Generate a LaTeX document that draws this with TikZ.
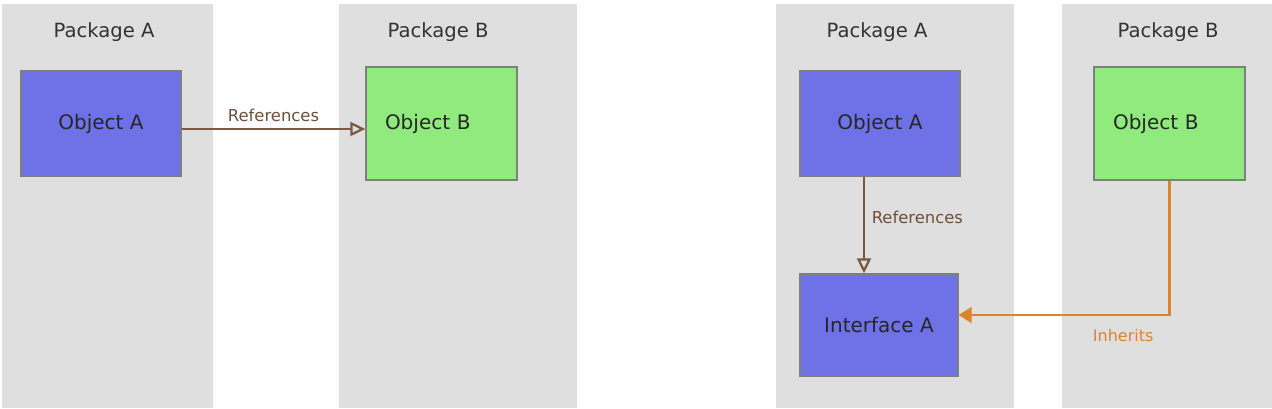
\documentclass[tikz,border=0pt]{standalone}
\usepackage{fontspec}
\setmainfont{DejaVu Sans}
\usetikzlibrary{calc,arrows.meta}
\definecolor{pkggray}{HTML}{DFDFDF}
\definecolor{boxgray}{HTML}{7F7F7F}
\definecolor{objblue}{HTML}{6F72E7}
\definecolor{objgreen}{HTML}{90EA7D}
\definecolor{refbrown}{HTML}{7B5842}
\definecolor{inhorange}{HTML}{D9852F}
\tikzstyle{panel} = [fill=pkggray]
\tikzstyle{pkglabel} = [font=\fontsize{9.8}{12}\selectfont, text=black!80]
\tikzstyle{objbox} = [draw=boxgray, line width=0.7pt, inner sep=0pt, font=\fontsize{10}{12}\selectfont, text=black!85]
\tikzstyle{refarrow} = [line width=1.1pt, draw=refbrown, -{Triangle[open,length=7.5pt,width=7pt]}]
\tikzstyle{inharrow} = [line width=1.1pt, draw=inhorange, -{Triangle[length=6.5pt,width=8pt]}]
\tikzstyle{reflabel} = [font=\fontsize{8.2}{10}\selectfont, text=refbrown!90!black]
\tikzstyle{inhlabel} = [font=\fontsize{8}{10}\selectfont, text=inhorange]

\begin{document}
\begin{tikzpicture}[x=0.5pt,y=-0.5pt]
            \useasboundingbox (0,0) rectangle (1272,408);
            % package panels
            \fill[panel] (2,4) rectangle (213,408);
            \fill[panel] (339,4) rectangle (577,408);
            \fill[panel] (776,4) rectangle (1014,408);
            \fill[panel] (1062,4) rectangle (1272,408);
            \node[pkglabel] (pkgA1) at (104,32) {Package A};
            \node[pkglabel] (pkgB1) at (438,32) {Package B};
            \node[pkglabel] (pkgA2) at (877,32) {Package A};
            \node[pkglabel] (pkgB2) at (1168,32) {Package B};

            % left: direct reference
            \node[objbox, fill=objblue, minimum width=80pt, minimum height=52.5pt] (objA1) at (101,123.5) {Object A};
            \node[objbox, fill=objgreen, minimum width=75.5pt, minimum height=56.5pt, text width=56.5pt, align=left] (objB1) at (441.5,123.5) {Object B};
            \draw[refarrow] ($(objA1.east)+(0,5.5)$) -- ($(objB1.west)+(0,5.5)$) node[reflabel, midway, above] {References};

            % right: reference through interface
            \node[objbox, fill=objblue, minimum width=80pt, minimum height=52.5pt] (objA2) at (880,123.5) {Object A};
            \node[objbox, fill=objgreen, minimum width=75.5pt, minimum height=56.5pt, text width=56.5pt, align=left] (objB2) at (1169.5,123.5) {Object B};
            \node[objbox, fill=objblue, minimum width=79pt, minimum height=51pt] (intA) at (879,325) {Interface A};
            \coordinate (refx) at (864,0);
            \coordinate (inhy) at (0,315);
            \draw[refarrow] (objA2.south -| refx) -- (intA.north -| refx) node[reflabel, pos=0.42, right] {References};
            \draw[inharrow] (objB2.south) |- (intA.east |- inhy) node[inhlabel, pos=0.61, below=3.5pt] {Inherits};
        \end{tikzpicture}
\end{document}
